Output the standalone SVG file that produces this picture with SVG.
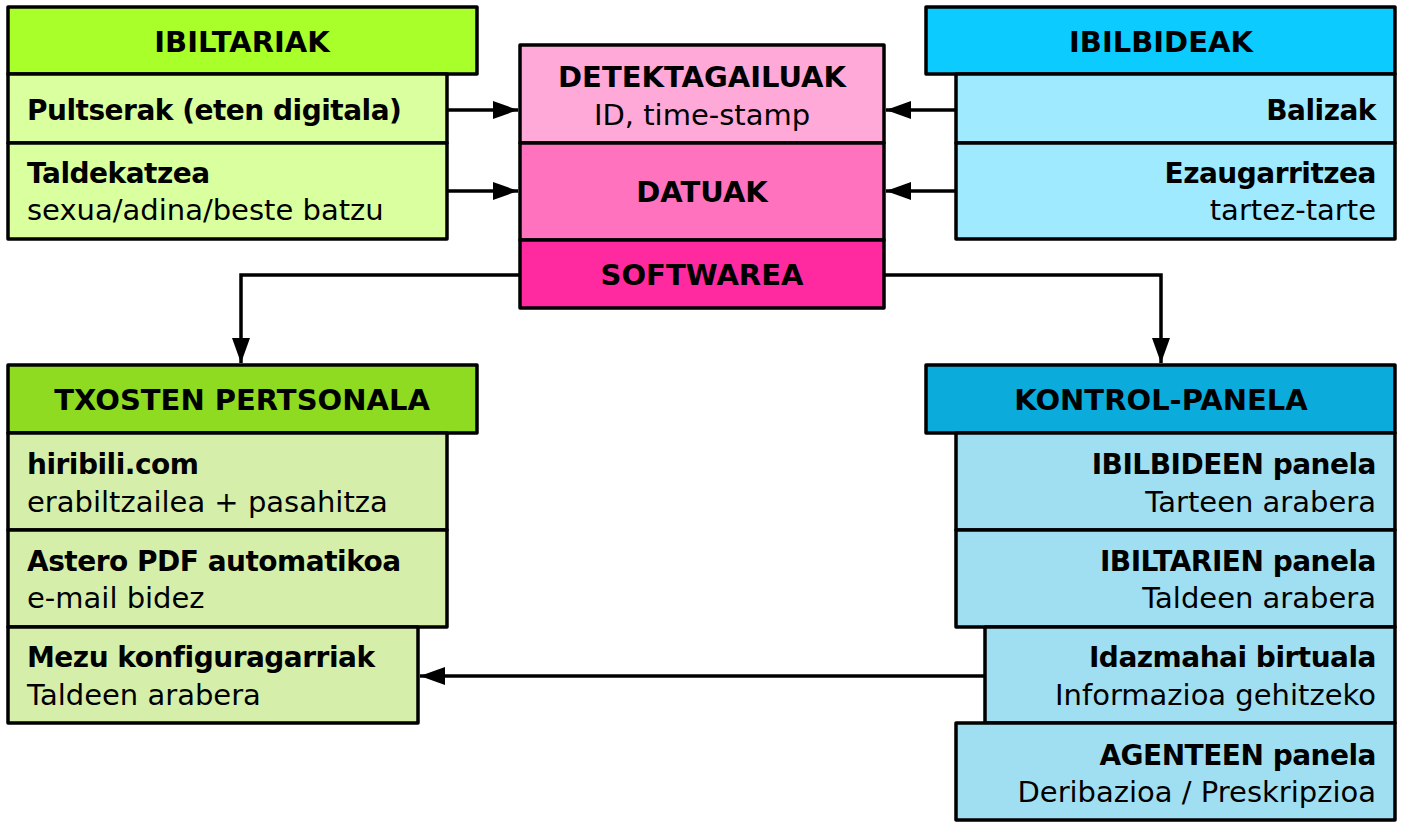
<svg xmlns="http://www.w3.org/2000/svg" width="1402" height="826" viewBox="0 0 1402 826">
<defs>
<marker id="ah" viewBox="0 0 25 18" refX="25" refY="9" markerWidth="25" markerHeight="18" markerUnits="userSpaceOnUse" orient="auto"><path d="M0,0 L25,9 L0,18 Z" fill="#000"/></marker>
<style>
rect{stroke:#000;stroke-width:3.5;stroke-linejoin:round}
text{font-family:"DejaVu Sans","Open Sans",sans-serif;font-size:29px;fill:#000}
.b{font-weight:bold;font-size:28px;letter-spacing:-0.5px}
.c{text-anchor:middle}
.r{text-anchor:end}
.h{font-size:29px;letter-spacing:0px}
.conn{fill:none;stroke:#000;stroke-width:3.5}
</style>
</defs>
<rect width="1402" height="826" fill="#fff" style="stroke:none"/>
<g id="connectors">
<path class="conn" d="M447,110 H518" marker-end="url(#ah)"/>
<path class="conn" d="M447,191 H518" marker-end="url(#ah)"/>
<path class="conn" d="M956,110 H886" marker-end="url(#ah)"/>
<path class="conn" d="M956,191 H886" marker-end="url(#ah)"/>
<path class="conn" d="M520,275 H241 V363" marker-end="url(#ah)"/>
<path class="conn" d="M884,275 H1161 V363" marker-end="url(#ah)"/>
<path class="conn" d="M985,676 H420" marker-end="url(#ah)"/>
</g>
<g id="ibiltariak">
<rect x="8" y="7" width="469" height="67" fill="#a8ff2a"/>
<text class="b c h" x="242" y="52">IBILTARIAK</text>
<rect x="8" y="74" width="439" height="69" fill="#d9ff9f"/>
<text class="b" x="27" y="120">Pultserak (eten digitala)</text>
<rect x="8" y="143" width="439" height="96" fill="#d9ff9f"/>
<text class="b" x="27" y="183">Taldekatzea</text>
<text x="27" y="220">sexua/adina/beste batzu</text>
</g>
<g id="center">
<rect x="520" y="45" width="364" height="98" fill="#ffa9d8"/>
<text class="b c h" x="702" y="87">DETEKTAGAILUAK</text>
<text class="c" x="702" y="125">ID, time-stamp</text>
<rect x="520" y="143" width="364" height="97" fill="#ff72bd"/>
<text class="b c h" x="702" y="202">DATUAK</text>
<rect x="520" y="240" width="364" height="68" fill="#ff2a9f"/>
<text class="b c h" x="702" y="285">SOFTWAREA</text>
</g>
<g id="ibilbideak">
<rect x="926" y="7" width="469" height="67" fill="#0bcbff"/>
<text class="b c h" x="1161" y="52">IBILBIDEAK</text>
<rect x="956" y="74" width="439" height="69" fill="#9feaff"/>
<text class="b r" x="1376" y="120">Balizak</text>
<rect x="956" y="143" width="439" height="96" fill="#9feaff"/>
<text class="b r" x="1376" y="183">Ezaugarritzea</text>
<text class="r" x="1376" y="220">tartez-tarte</text>
</g>
<g id="txosten">
<rect x="8" y="365" width="469" height="68" fill="#8edb22"/>
<text class="b c h" x="242" y="410">TXOSTEN PERTSONALA</text>
<rect x="8" y="433" width="439" height="97" fill="#d5efab"/>
<text class="b" x="27" y="474">hiribili.com</text>
<text x="27" y="512">erabiltzailea + pasahitza</text>
<rect x="8" y="530" width="439" height="97" fill="#d5efab"/>
<text class="b" x="27" y="571">Astero PDF automatikoa</text>
<text x="27" y="608">e-mail bidez</text>
<rect x="8" y="627" width="410" height="96" fill="#d5efab"/>
<text class="b" x="27" y="667">Mezu konfiguragarriak</text>
<text x="27" y="705">Taldeen arabera</text>
</g>
<g id="kontrol">
<rect x="926" y="365" width="469" height="68" fill="#0babdb"/>
<text class="b c h" x="1161" y="410">KONTROL-PANELA</text>
<rect x="956" y="433" width="439" height="97" fill="#a0dff1"/>
<text class="b r" x="1376" y="474">IBILBIDEEN panela</text>
<text class="r" x="1376" y="512">Tarteen arabera</text>
<rect x="956" y="530" width="439" height="97" fill="#a0dff1"/>
<text class="b r" x="1376" y="571">IBILTARIEN panela</text>
<text class="r" x="1376" y="608">Taldeen arabera</text>
<rect x="985" y="627" width="410" height="96" fill="#a0dff1"/>
<text class="b r" x="1376" y="667">Idazmahai birtuala</text>
<text class="r" x="1376" y="705">Informazioa gehitzeko</text>
<rect x="956" y="723" width="439" height="97" fill="#a0dff1"/>
<text class="b r" x="1376" y="765">AGENTEEN panela</text>
<text class="r" x="1376" y="802">Deribazioa / Preskripzioa</text>
</g>
</svg>
